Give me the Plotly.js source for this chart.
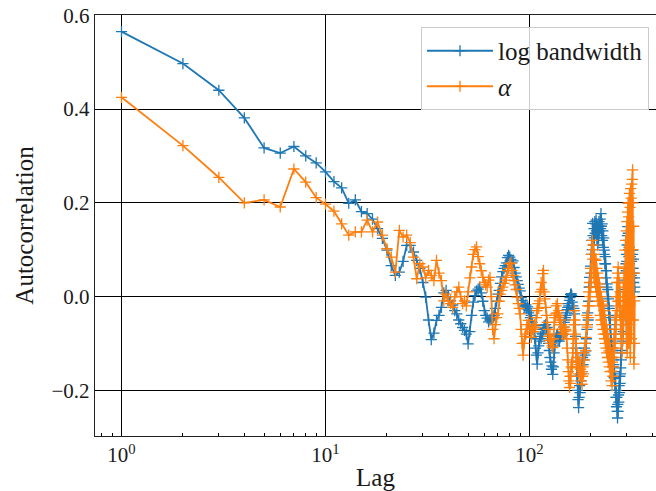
<!DOCTYPE html>
<html>
<head>
<meta charset="utf-8">
<script src="https://cdn.plot.ly/plotly-3.0.1.min.js"></script>
<style>html,body{margin:0;padding:0;background:#fff;}#chart{width:656px;height:491px;}</style>
</head>
<body>
<div id="chart"></div>
<script>
// Autocorrelation of log bandwidth (blue) and alpha (orange) by lag 1..N
const logBandwidth = [
0.565, 0.497, 0.44, 0.381, 0.317, 0.306, 0.32, 0.30, 0.285, 0.266,
0.245, 0.232, 0.199, 0.206, 0.181, 0.177, 0.165, 0.145, 0.124, 0.099,
0.066, 0.045, 0.052, 0.075, 0.109, 0.109, 0.095, 0.077,
0.06, 0.03, -0.001, -0.05, -0.092, -0.078, -0.051, -0.04, -0.023,
0.008, 0.013, 0.0, -0.009, -0.018, -0.03, -0.037, -0.05, -0.058, -0.066, -0.072, -0.08,
-0.101, -0.075, -0.04, -0.012, 0.002, 0.012, 0.016, 0.02, 0.008, -0.01, -0.03, -0.04, -0.046,
-0.054, -0.05, -0.047, -0.044, -0.04, -0.025, -0.01, 0.005, 0.013, 0.028, 0.042, 0.053, 0.06, 0.066, 0.072,
0.083, 0.088, 0.084, 0.079, 0.072, 0.076, 0.062, 0.05, 0.042, 0.034, 0.026, 0.018, 0.012,
-0.002, -0.008, -0.015, -0.02, -0.022, -0.018, -0.026, -0.022, -0.035, -0.03, -0.045, -0.04, -0.055,
-0.07, -0.062, -0.09, -0.11, -0.125, -0.144, -0.12, -0.105, -0.095, -0.085, -0.09, -0.078, -0.08, -0.07,
-0.062, -0.068, -0.06, -0.07, -0.066, -0.085, -0.1, -0.115, -0.13, -0.14, -0.155, -0.148, -0.166, -0.15,
-0.12, -0.105, -0.095, -0.09, -0.082, -0.08, -0.092, -0.085, -0.095, -0.088, -0.078, -0.085, -0.075, -0.082, -0.08,
-0.065, -0.055, -0.05, -0.045, -0.04, -0.035, -0.028, -0.023, -0.015, -0.02, -0.008, -0.002, 0.004, 0.006,
0.002, -0.012, -0.02, -0.03, -0.025, -0.037, -0.06, -0.085, -0.11, -0.14, -0.17, -0.2, -0.22, -0.237, -0.215,
-0.19, -0.205, -0.165, -0.18, -0.145, -0.16, -0.13, -0.145, -0.12, -0.135, -0.11, -0.125, -0.1, -0.116, -0.09,
-0.07, -0.06, -0.035, -0.05, -0.01, 0.02, 0.041, 0.02, 0.065, 0.05, 0.09, 0.12, 0.1, 0.156, 0.13,
0.11, 0.145, 0.125, 0.16, 0.135, 0.155, 0.163, 0.14, 0.12, 0.15, 0.11, 0.14, 0.125, 0.16, 0.14,
0.15, 0.165, 0.145, 0.177, 0.15, 0.13, 0.155, 0.12, 0.14, 0.105, 0.125, 0.09, 0.099, 0.07, 0.085,
0.07, 0.04, 0.055, 0.02, 0.027, 0.0, 0.015, -0.02, -0.005, -0.04, -0.025, -0.06, -0.045, -0.07,
-0.08, -0.095, -0.11, -0.1, -0.13, -0.115, -0.15, -0.135, -0.16, -0.145, -0.173, -0.16, -0.19, -0.175, -0.2,
-0.215, -0.2, -0.235, -0.215, -0.245, -0.259, -0.23, -0.245, -0.21, -0.225, -0.19, -0.205, -0.17, -0.185,
-0.165, -0.152, -0.12, -0.135, -0.1, -0.115, -0.08, -0.095, -0.06, -0.075, -0.04, -0.02, -0.009, 0.01,
0.03, 0.015, 0.05, 0.035, 0.07, 0.055, 0.09, 0.075, 0.11, 0.13, 0.149, 0.12, 0.135, 0.1,
0.085, 0.105, 0.07, 0.09, 0.06, 0.085, 0.05, 0.08, 0.045, 0.075, 0.04, 0.1, 0.06, 0.09,
0.099, 0.06, 0.08, 0.03, 0.05, 0.01, 0.04, 0.02
];

const alpha = [
0.425, 0.322, 0.254, 0.2, 0.206, 0.191, 0.272, 0.244, 0.211, 0.197,
0.182, 0.155, 0.131, 0.138, 0.138, 0.163, 0.138, 0.159, 0.131, 0.102,
0.084, 0.052, 0.141, 0.127, 0.131, 0.115, 0.084, 0.038,
0.07, 0.063, 0.04, 0.056, 0.045, 0.034, 0.077, 0.05, 0.034,
-0.009, 0.005, -0.009, -0.015, -0.023, 0.0, 0.01, 0.02, 0.0, -0.015, -0.009, -0.02,
0.01, 0.04, 0.063, 0.09, 0.1, 0.106, 0.085, 0.07, 0.055, 0.041, 0.03, 0.025, 0.02,
0.035, 0.041, 0.0, -0.07, -0.09, -0.06, -0.045, -0.037, -0.01, 0.005, 0.013, 0.02, 0.028, 0.035, 0.041,
0.055, 0.06, 0.07, 0.072, 0.056, 0.045, 0.034, 0.025, 0.015, -0.001, -0.015, -0.025, -0.037,
-0.07, -0.1, -0.125, -0.1, -0.085, -0.08, -0.06, -0.07, -0.051, -0.06, -0.075, -0.087, -0.07,
-0.066, -0.075, -0.06, -0.066, -0.045, -0.03, -0.015, -0.025, -0.009, 0.01, 0.03, 0.015, 0.049, 0.056,
0.01, -0.005, -0.023, -0.04, -0.055, -0.07, -0.085, -0.094, -0.08, -0.1, -0.09, -0.105, -0.109, -0.09,
-0.055, -0.045, -0.037, -0.02, -0.035, -0.015, -0.04, -0.03, -0.044, -0.06, -0.05, -0.07, -0.06, -0.08, -0.07,
-0.075, -0.065, -0.08, -0.07, -0.073, -0.09, -0.11, -0.135, -0.16, -0.18, -0.194, -0.17, -0.185, -0.15,
-0.14, -0.152, -0.12, -0.09, -0.06, -0.03, -0.05, -0.08, -0.1, -0.137, -0.12, -0.15, -0.13, -0.165, -0.145,
-0.14, -0.17, -0.155, -0.18, -0.16, -0.187, -0.17, -0.15, -0.165, -0.12, -0.135, -0.1, -0.115, -0.087, -0.06,
-0.04, -0.065, -0.02, -0.045, 0.01, -0.02, 0.03, 0.0, 0.06, 0.02, 0.09, 0.05, 0.12, 0.08, 0.11,
0.1, 0.04, 0.09, 0.03, 0.08, 0.02, 0.077, 0.01, 0.06, 0.0, 0.05, -0.01, 0.04, -0.02, 0.027,
0.02, -0.04, 0.01, -0.05, 0.0, -0.06, -0.01, -0.016, -0.07, -0.02, -0.08, -0.03, -0.09, -0.04, -0.1,
-0.08, -0.11, -0.06, -0.12, -0.07, -0.13, -0.08, -0.14, -0.09, -0.116, -0.15, -0.1, -0.16, -0.11,
-0.12, -0.18, -0.13, -0.159, -0.19, -0.14, -0.17, -0.11, -0.15, -0.09, -0.13, -0.07, -0.11, -0.044, -0.09,
-0.07, 0.0, -0.05, 0.03, -0.03, 0.05, -0.01, 0.063, 0.0, 0.04, -0.02, 0.03, -0.04, 0.01,
-0.01, -0.08, -0.03, -0.1, -0.044, -0.12, -0.03, -0.09, 0.0, -0.06, 0.03, -0.04, 0.06, -0.02,
0.0, 0.099, 0.02, 0.12, -0.05, 0.14, -0.1, 0.16, -0.12, 0.18, -0.08, 0.199, -0.1, 0.17,
0.2, -0.06, 0.22, -0.1, 0.19, -0.13, 0.23, -0.05, 0.21, -0.09, 0.24, 0.0, 0.25, 0.27,
0.1, 0.2, -0.05, 0.15, -0.144, 0.05, -0.1, -0.009
];

// lag k is the k-th value
const lagsBlue = logBandwidth.map((_, i) => i + 1);
const lagsOrange = alpha.map((_, i) => i + 1);

const seriesNames = ['log bandwidth', '<i>α</i>'];
const xTickVals = [1, 10, 100];
const xTickText = ['10<sup>0</sup>', '10<sup>1</sup>', '10<sup>2</sup>'];
const xMinorVals = [0.8, 0.9, 2, 3, 4, 5, 6, 7, 8, 9, 20, 30, 40, 50, 60, 70, 80, 90, 200, 300, 400];
const yTickVals = [-0.2, 0.0, 0.2, 0.4, 0.6];
const yTickText = ['\u22120.2', '0.0', '0.2', '0.4', '0.6'];

const BLUE = '#1f77b4', ORANGE = '#ff7f0e';
function mk(x, y, name, color) {
  return {
    x: x, y: y, name: name, type: 'scatter', mode: 'lines+markers',
    line: {color: color, width: 1.8},
    marker: {symbol: 'cross-thin', size: 8, color: color, line: {color: color, width: 1.3}}
  };
}
const data = [
  mk(lagsBlue, logBandwidth, seriesNames[0], BLUE),
  mk(lagsOrange, alpha, seriesNames[1], ORANGE)
];

const FONT = 'Liberation Serif';
const TXT = '#1a1a1a';
const layout = {
  width: 656, height: 491,
  margin: {l: 95, r: 0, t: 15, b: 55, pad: 0},
  paper_bgcolor: '#ffffff', plot_bgcolor: '#ffffff',
  font: {family: FONT, size: 21, color: TXT},
  showlegend: true,
  legend: {
    x: 0.9875, xanchor: 'right', y: 0.9715, yanchor: 'top',
    bgcolor: 'rgba(255,255,255,0.8)', bordercolor: '#cccccc', borderwidth: 1,
    itemwidth: 66,
    font: {family: FONT, size: 25, color: TXT}
  },
  xaxis: {
    type: 'log', range: [-0.1299, 2.62],
    tickmode: 'array', tickvals: xTickVals, ticktext: xTickText,
    ticks: 'inside', ticklen: 5, tickcolor: '#000', tickwidth: 1,
    showgrid: true, gridcolor: '#000000', gridwidth: 1,
    showline: true, linecolor: '#222', linewidth: 1.2, mirror: true,
    zeroline: false, automargin: false,
    minor: {tickmode: 'array', tickvals: xMinorVals, ticks: 'inside', ticklen: 3.5, tickcolor: '#000', tickwidth: 1, showgrid: false},
    tickfont: {family: FONT, size: 21, color: TXT},
    title: {text: 'Lag', font: {family: FONT, size: 25, color: TXT}, standoff: 6}
  },
  yaxis: {
    range: [-0.2974, 0.6005],
    tickmode: 'array', tickvals: yTickVals, ticktext: yTickText,
    ticks: 'inside', ticklen: 5, tickcolor: '#000', tickwidth: 1,
    showgrid: true, gridcolor: '#000000', gridwidth: 1,
    showline: true, linecolor: '#222', linewidth: 1.2, mirror: true,
    zeroline: false, automargin: false,
    tickfont: {family: FONT, size: 21, color: TXT},
    title: {text: 'Autocorrelation', font: {family: FONT, size: 25, color: TXT}, standoff: 10}
  }
};

Plotly.newPlot('chart', data, layout, {displayModeBar: false, staticPlot: true});
</script>
</body>
</html>
